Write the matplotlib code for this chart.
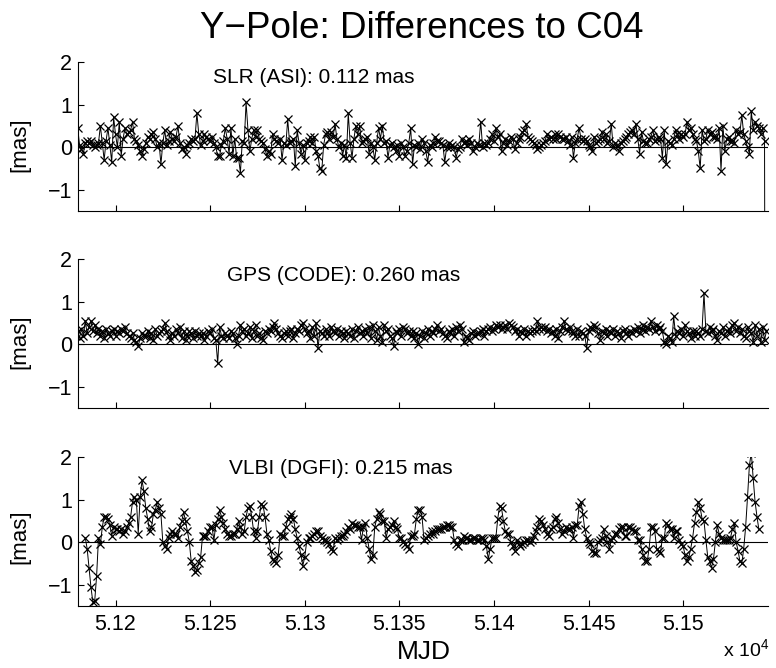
import numpy as np
import matplotlib
matplotlib.use("Agg")
import matplotlib.pyplot as plt
from matplotlib.ticker import FuncFormatter

plt.rcParams['font.family'] = ['Liberation Sans', 'DejaVu Sans']
plt.rcParams['mathtext.fontset'] = 'custom'
plt.rcParams['mathtext.rm'] = 'Liberation Sans'

# first MJD of each (daily) series
slr_start = 51180
gps_start = 51180
vlbi_start = 51184

# Y-pole differences to C04 [mas]
slr = [
	.45, .05, -.05, -.15, .10, .15, .10, .15, .05, .00,
	.05, .10, .50, .10, -.30, .15, .45, .05, -.35, .70,
	.30, .00, .60, -.20, .20, .45, .30, .35, .40, .60,
	.20, .15, .05, -.10, -.20, -.05, .10, .25, .20, .30,
	.35, .20, .00, .10, -.40, .10, .40, .05, .15, .35,
	.20, .15, .25, .50, .10, -.05, .00, -.15, .05, .10,
	.20, .15, .20, .80, .30, .05, .15, .30, .25, .20,
	.15, .25, .10, .00, -.20, -.20, .05, .15, .45, .20,
	-.15, .45, -.20, .20, -.25, -.25, -.60, .15, .10, 1.05,
	.40, -.10, .20, .40, .25, .40, .20, .15, .10, -.05,
	-.20, -.10, -.15, .30, .20, .15, .10, .20, -.30, .10, .05,
	.65, .10, .15, .20, -.45, .40, .10, -.15, .05, -.30,
	.10, .15, .25, .10, .25, -.10, -.20, -.50, -.55, .05,
	.30, .35, .20, .35, .25, .55, .20, .00, .10, -.20,
	.05, -.25, .80, .10, -.25, .20, .50, .30, .50, .10,
	.15, .20, .25, -.15, .10, .00, -.30, .10, .45, .20,
	.50, .10, .15, -.25, .05, .10, .00, -.10, .05, -.20,
	.10, .00, -.20, -.10, .10, .45, -.40, .05, .00, .10,
	-.05, .20, .10, -.10, -.35, .05, .00, .10, .25, .15,
	.15, .10, .05, -.35, .00, .10, .00, .05, .00, -.25,
	-.05, .00, .20, .10, .15, .05, .20, .10, -.10, .00, .10,
	.05, .60, .00, .10, .05, .10, .20, .30, .15, .45,
	.25, .30, -.10, .10, .20, .05, .15, .25, .20, -.05,
	.10, .20, .25, .35, .40, .55, .25, .20, .15, .10,
	.05, -.05, .00, .05, .10, .15, .30, .20, .25, .20,
	.30, .20, .30, .25, .20, .20, .25, .15, .05, .25,
	-.25, .10, .20, .45, .20, .15, .20, .15, .05, .00,
	-.10, .25, .10, .15, .20, .35, .20, .30, .10, .15,
	.55, .00, .10, .05, -.10, .10, .15, .20, .25, .30,
	.35, .40, .30, .55, .20, -.15, .35, .15, .10, .10,
	.20, .25, .40, .15, .20, .25, .20, -.25, .40, -.40, .15,
	.10, .05, .20, .40, .30, .20, .30, .25, .30, .60,
	.40, .45, .30, .20, .15, -.10, -.50, .40, .15, .20,
	.40, .30, .35, .25, .25, .20, .45, -.55, .50, -.10,
	.20, .25, .15, .15, .10, .40, .30, .35, .75, .30,
	.15, .00, -.15, .85, .40, .60, .50, .45, .30, .45,
	.15, -20.0,
]

gps = [
	.30, .15, .35, .20, .55, .25, .40, .55, .30, .45,
	.25, .35, .20, .30, .15, .35, .25, .20, .30, .35,
	.20, .30, .25, .35, .30, .40, .25, .20, .15, .25,
	.10, .05, -.05, .15, .25, .20, .20, .30, .15, .25,
	.10, .35, .20, .25, .30, .35, .50, .30, .20, .10,
	.25, .20, .35, .25, .40, .15, .30, .10, .20, .30,
	.25, .15, .30, .20, .25, .20, .25, .10, .20, .30,
	.25, .35, .15, .10, -.45, .40, .20, .15, .25, .20,
	.15, .30, .25, .15, .00, .20, .45, .30, .35, .20,
	.25, .40, .15, .30, .45, .20, .25, .15, .10, .30,
	.25, .35, .30, .40, .50, .35, .25, .20, .15, .25, .30,
	.20, .30, .35, .15, .25, .35, .30, .45, .50, .35,
	.25, .30, .15, .40, .20, .50, -.10, .30, .25, .20,
	.35, .25, .20, .40, .30, .25, .35, .20, .30, .25,
	.15, .30, .25, .20, .35, .15, .30, .40, .25, .30,
	.20, .35, .25, .40, .15, .45, .30, .10, .40, .20,
	.05, .45, .30, .35, .20, .15, -.05, .30, .25, .35,
	.20, .40, .35, .25, .30, .20, .30, .15, .25, .00,
	.20, .30, .15, .25, .35, .20, .30, .25, .35, .45,
	.30, .35, .25, .20, .15, .30, .25, .35, .20, .40,
	.30, .45, .35, .05, .20, .15, .10, .25, .30, .20, .25,
	.25, .30, .35, .20, .30, .35, .40, .30, .35, .45,
	.40, .45, .35, .40, .45, .35, .50, .45, .40, .30,
	.35, .20, .30, .25, .35, .20, .30, .25, .30, .35,
	.30, .55, .35, .40, .35, .40, .30, .35, .25, .30,
	.20, .35, .15, .30, .40, .55, .35, .30, .40, .30,
	.25, .20, .35, .20, .30, .25, .20, -.10, .30, .40,
	.35, .45, .40, .25, .10, .30, .25, .35, .20, .30,
	.25, .35, .20, .30, .25, .15, .30, .35, .25, .20,
	.30, .25, .35, .30, .40, .25, .35, .45, .30, .40,
	.35, .55, .40, .30, .45, .35, .40, .30, .05, .00, .20,
	.15, .05, .65, .20, .30, .25, .35, .20, .45, .30,
	.25, .15, .30, .20, .30, .25, .20, .35, 1.20, .30,
	.25, .40, .30, .35, .20, .10, .30, .25, .40, .20,
	.30, .35, .25, .45, .50, .30, .40, .25, .35, .20,
	.15, .40, .30, .25, .05, .45, .20, .35, .05, .40,
	.10, .30,
]

vlbi = [
	.10, -.15, -.60, -1.05, -1.40, -1.38,
	-.80, .10, -.05, .35, .60, .60, .55, .40, .15, .35,
	.30, .30, .25, .30, .20, .25, .35, .45, .60, .95,
	1.05, 1.00, .20, 1.05, 1.45, 1.20, .80, .55, .25, .35,
	.65, .75, .95, .80, .65, .00, -.10, -.15, .10, .20,
	.25, .20, .20, .10, .35, .50, .70, .50, .25, .00,
	-.45, -.55, -.70, -.65, -.50, -.35, .15, .15, .15, .25,
	.35, .35, .05, .40, .55, .75, .60, .45, .30, .20,
	.15, .15, .20, .20, .30, .50, .35, .20, .25, .60,
	.80, .85, .60, .25, .10, .25, .60, .90, .85, .60,
	.20, .05, -.20, -.40, -.45, -.50, -.30, .20, .15, .15, .35,
	.55, .60, .65, .55, .30, .10, -.10, -.30, -.55, -.35,
	.00, .10, .10, .15, .20, .25, .25, .15, .10, .05,
	.05, .00, -.05, -.15, -.20, .10, .05, .10, .15, .15,
	.20, .25, .35, .30, .45, .40, .40, .35, .35, .05,
	.35, .45, .10, -.15, -.40, -.30, .35, .55, .70, .65,
	.50, .50, .10, .30, .35, .40, .50, .35, .30, .10,
	.10, .00, -.05, -.10, -.15, .15, .15, .20, .55, .75,
	.75, .60, .05, .10, .15, .20, .25, .20, .25, .30,
	.30, .30, .35, .35, .40, .40, .35, .35, .05, -.05,
	-.10, .05, .05, .15, .10, .10, .05, .05, .10, .10, .05,
	.05, .10, .10, .05, -.10, -.40, -.15, .10, .10, .10,
	.55, .85, .80, .50, .25, .20, .20, .00, -.10, -.20,
	.05, -.05, -.10, -.05, .00, .05, .05, .00, .05, .15,
	.25, .35, .55, .50, .40, .30, .20, .15, .30, .35,
	.55, .60, .45, .30, .20, .25, .35, .30, .30, .35,
	.10, .40, .40, .85, .95, .65, .30, .10, .00, -.05,
	-.20, -.25, -.25, .00, .05, .10, .30, .15, .00, -.15,
	.05, .10, .20, .20, .30, .35, .35, .15, .15, .35,
	.35, .30, .25, .25, .05, .05, -.15, -.30, -.45, -.45,
	-.15, .35, .35, .25, -.15, -.20, -.25, .10, .10, .45, .40,
	.30, .30, .10, .25, .25, .05, -.05, -.10, -.30, -.45,
	-.35, -.15, .10, .45, .70, .95, .80, .55, .50, .05,
	-.35, -.45, -.60, -.40, .00, .40, .20, .10, .05, .05,
	.05, .05, .10, .30, .45, .00, -.20, -.45, -.50, -.15,
	.35, 1.05, 1.80, 2.10, 1.50, .95, .60, .30,
]

series = [slr, gps, vlbi]
starts = [slr_start, gps_start, vlbi_start]
labels = ["SLR (ASI): 0.112 mas", "GPS (CODE): 0.260 mas", "VLBI (DGFI): 0.215 mas"]
label_pos = [(0.196, 0.893), (0.216, 0.886), (0.219, 0.92)]
xticks = [51200, 51250, 51300, 51350, 51400, 51450, 51500]
yticks = [-1, 0, 1, 2]

fig = plt.figure(figsize=(7.76, 6.68), dpi=100)
bottoms = [0.6841, 0.3892, 0.0928]
ylab_y = [0.783, 0.488, 0.196]

for k in range(3):
	ax = fig.add_axes([0.1001, bottoms[k], 0.890, 0.2231])
	y = np.array(series[k])
	x = starts[k] + np.arange(len(y))
	ax.axhline(0, color='k', lw=0.8, zorder=1)
	ax.plot(x, y, '-', color='k', lw=0.7, marker='x', ms=5.5, mew=0.9, zorder=2)
	ax.set_xlim(51180, 51545)
	ax.set_ylim(-1.5, 2)
	ax.set_xticks(xticks)
	ax.set_yticks(yticks)
	ax.yaxis.set_major_formatter(FuncFormatter(lambda v, p: f"{v:g}".replace('-', '\u2212')))
	if k == 2:
		ax.xaxis.set_major_formatter(FuncFormatter(lambda v, p: f"{v / 1e4:g}"))
	else:
		ax.set_xticklabels([])
	for s in ['top', 'right']:
		ax.spines[s].set_visible(False)
	for s in ['left', 'bottom']:
		ax.spines[s].set_linewidth(0.8)
	ax.tick_params(direction='in', length=4, width=0.8, labelsize=15.5)
	ax.tick_params(axis='x', pad=6)
	ax.tick_params(axis='y', pad=4)
	ax.text(label_pos[k][0], label_pos[k][1], labels[k], transform=ax.transAxes,
			ha='left', va='center', fontsize=15)
	fig.text(0.026, ylab_y[k], "[mas]", rotation=90, ha='center', va='center', fontsize=16)

fig.text(0.544, 0.9427, "Y\u2212Pole: Differences to C04", ha='center', va='baseline', fontsize=26.5)
fig.text(0.546, 0.024, "MJD", ha='center', va='center', fontsize=19)
fig.text(0.932, 0.027, "x 10$^{4}$", ha='left', va='center', fontsize=14)

fig.savefig("out.png", dpi=100)
